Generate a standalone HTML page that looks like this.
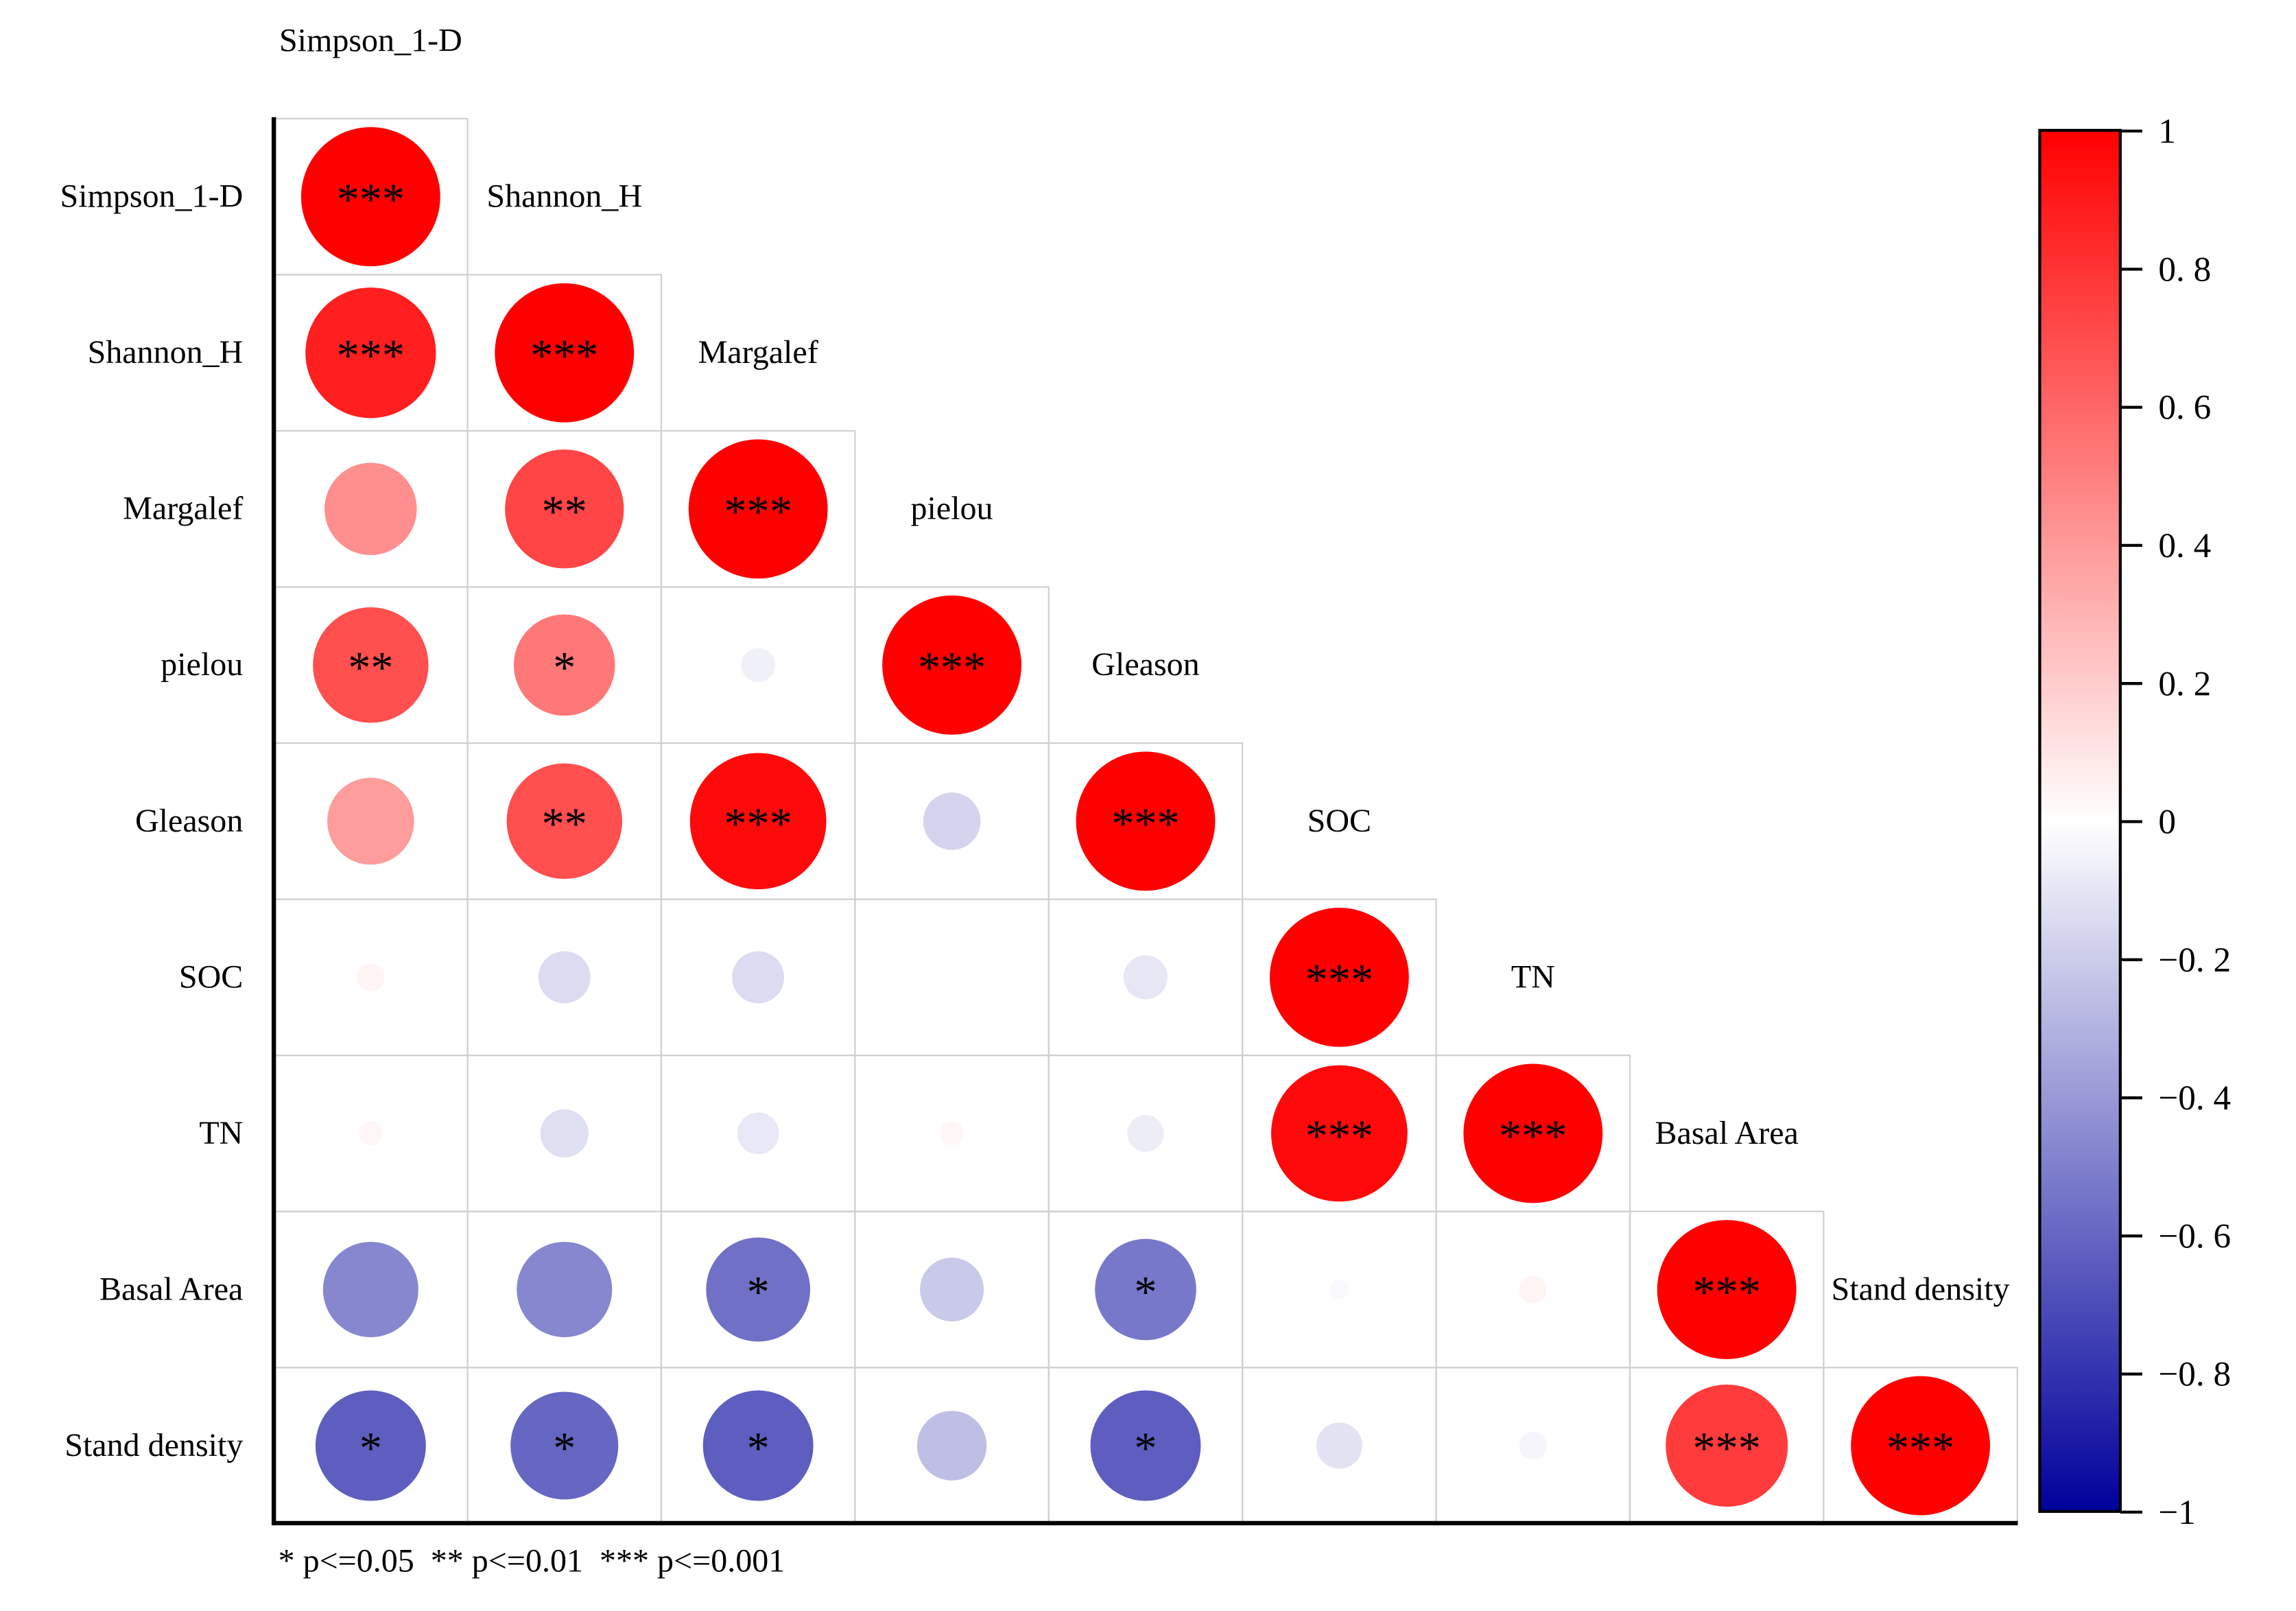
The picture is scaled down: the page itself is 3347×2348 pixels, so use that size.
<!DOCTYPE html>
<html><head><meta charset="utf-8"><style>
html,body{margin:0;padding:0;background:#fff}
svg{display:block}
text{font-family:"Liberation Serif",serif;fill:#000;white-space:pre}
</style></head><body>
<svg id="chart" width="3347" height="2348" viewBox="0 0 1568 1100" preserveAspectRatio="none" xmlns="http://www.w3.org/2000/svg">
<defs>
<linearGradient id="cbar" x1="0" y1="0" x2="0" y2="1">
<stop offset="0" stop-color="#ff0000"/><stop offset="0.5" stop-color="#ffffff"/><stop offset="1" stop-color="#00009b"/>
</linearGradient>
</defs>
<g id="grid"></g>
<g id="marks"></g>
<g id="labels"></g>
<line x1="187" y1="80" x2="187" y2="1041" stroke="#000" stroke-width="3"/>
<line x1="185.5" y1="1040" x2="1378" y2="1040" stroke="#000" stroke-width="3"/>
<rect x="1393" y="89" width="55" height="943" fill="url(#cbar)" stroke="#000" stroke-width="2"/>
<g id="cbticks"></g>
<text x="190" y="1073" font-size="22.5">* p&lt;=0.05  ** p&lt;=0.01  *** p&lt;=0.001</text>
</svg>
<script>
const vars = ["Simpson_1-D","Shannon_H","Margalef","pielou","Gleason","SOC","TN","Basal Area","Stand density"];
const corr = [
 [1],
 [0.88,1],
 [0.44,0.73,1],
 [0.69,0.53,-0.06,1],
 [0.39,0.69,0.96,-0.17,1],
 [0.04,-0.14,-0.14,0,-0.1,1],
 [0.03,-0.12,-0.09,0.03,-0.07,0.96,1],
 [-0.47,-0.47,-0.56,-0.21,-0.53,-0.02,0.04,1],
 [-0.63,-0.6,-0.63,-0.25,-0.63,-0.11,-0.04,0.77,1]
];
const sig = [
 ["***"],
 ["***","***"],
 ["","**","***"],
 ["**","*","","***"],
 ["","**","***","","***"],
 ["","","","","","***"],
 ["","","","","","***","***"],
 ["","","*","","*","","","***"],
 ["*","*","*","","*","","","***","***"]
];
const cbTicks = [1,0.8,0.6,0.4,0.2,0,-0.2,-0.4,-0.6,-0.8,-1];
const cbLabels = ["1","0. 8","0. 6","0. 4","0. 2","0","\u22120. 2","\u22120. 4","\u22120. 6","\u22120. 8","\u22121"];

const NS="http://www.w3.org/2000/svg";
const x0=187,cw=132.3,y0=81,ch=106.6,Rmax=47.5;
const cx=j=>x0+cw*(j+0.5), cy=i=>y0+ch*(i+0.5);
const cbY=v=>561-v*471.5;
function color(v){
 if(v>=0){const t=Math.min(1,v);const g=Math.round(255*(1-t));return `rgb(255,${g},${g})`;}
 const t=Math.min(1,-v);const c=Math.round(255*(1-t));const b=Math.round(255-(255-155)*t);return `rgb(${c},${c},${b})`;
}
function mk(tag,attrs,parent){const e=document.createElementNS(NS,tag);for(const k in attrs)e.setAttribute(k,attrs[k]);parent.appendChild(e);return e;}
const grid=document.getElementById('grid'),marks=document.getElementById('marks'),labels=document.getElementById('labels'),cbt=document.getElementById('cbticks');
corr.forEach((row,i)=>{
 row.forEach((v,j)=>{
  const r=mk('rect',{x:x0+cw*j,y:y0+ch*i,width:cw,height:ch,fill:'none',stroke:'#cfcfcf','stroke-width':1},grid);
  
  
  const c=mk('circle',{cx:cx(j),cy:cy(i),r:Rmax*Math.sqrt(Math.abs(v)),fill:color(v)},marks);
  
  
  if(sig[i][j]){
   const s=mk('text',{x:cx(j),y:cy(i)+12,'text-anchor':'middle','font-size':31},marks);
   s.textContent=sig[i][j];
   
   
  }
 });
});
vars.forEach((n,i)=>{
 const t=mk('text',{x:166,y:cy(i)+7,'text-anchor':'end','font-size':22.5},labels);
 t.textContent=n;
 
 
 const yy = i===0 ? 35 : cy(i-1)+7;
 const d=mk('text',{x:cx(i),y:yy,'text-anchor':'middle','font-size':22.5},labels);
 d.textContent=n;
 
 
});
cbTicks.forEach((v,k)=>{
 const l=mk('line',{x1:1448,x2:1463,y1:cbY(v),y2:cbY(v),stroke:'#000','stroke-width':2},cbt);
 
 
 const t=mk('text',{x:1474,y:cbY(v)+8,'font-size':24},cbt);
 t.textContent=cbLabels[k];
 
 
});
</script>
</body></html>
